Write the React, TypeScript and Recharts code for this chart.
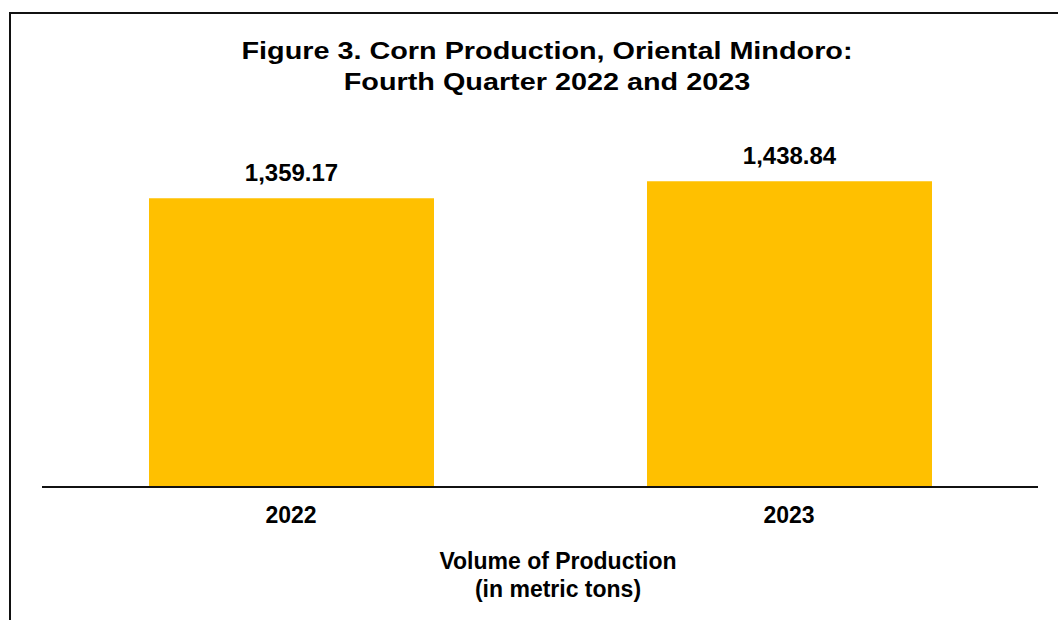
import React from "react";
import { BarChart, Bar, XAxis, YAxis, LabelList } from "recharts";

const years = ["2022", "2023"];
const production = [1359.17, 1438.84];
const titleLines = ["Figure 3. Corn Production, Oriental Mindoro:", "Fourth Quarter 2022 and 2023"];
const axisTitleLines = ["Volume of Production", "(in metric tons)"];

const data = years.map((year, i) => ({ year, value: production[i] }));

const FONT = "'Liberation Sans', Arial, Helvetica, sans-serif";

const fmt = (v: number) =>
  v.toLocaleString("en-US", { minimumFractionDigits: 2, maximumFractionDigits: 2 });

export default function App() {
  return (
    <div
      style={{
        position: "fixed",
        left: 0,
        top: 0,
        width: 1058,
        height: 620,
        overflow: "hidden",
        background: "#fff",
        fontFamily: FONT,
      }}
    >
      <div
        style={{
          position: "absolute",
          left: 9,
          top: 12,
          width: 1100,
          height: 700,
          border: "2px solid #111",
        }}
      />
      <BarChart
        width={1058}
        height={620}
        data={data}
        margin={{ top: 147, right: 20, bottom: 93, left: 42 }}
        style={{ position: "absolute", left: 0, top: 0 }}
      >
        <XAxis
          dataKey="year"
          height={40}
          axisLine={{ stroke: "#111", strokeWidth: 2 }}
          tickLine={false}
          tickMargin={14}
          tick={{ fill: "#000", fontSize: 23, fontWeight: 700, fontFamily: FONT }}
        />
        <YAxis hide domain={[0, 1600]} />
        <Bar dataKey="value" fill="#FFC000" barSize={285} isAnimationActive={false}>
          <LabelList
            dataKey="value"
            position="top"
            offset={17}
            formatter={(v: any) => fmt(Number(v))}
            style={{ fill: "#000", fontSize: 24, fontWeight: 700, fontFamily: FONT }}
          />
        </Bar>
      </BarChart>
      <svg
        width={1058}
        height={620}
        style={{ position: "absolute", left: 0, top: 0, pointerEvents: "none" }}
      >
        {titleLines.map((t, i) => (
          <text
            key={t}
            x={0}
            y={0}
            transform={`translate(547, ${59 + i * 31}) scale(1.2, 1)`}
            textAnchor="middle"
            fontFamily={FONT}
            fontWeight={700}
            fontSize={24}
            fill="#000"
          >
            {t}
          </text>
        ))}
        {axisTitleLines.map((t, i) => (
          <text
            key={t}
            x={558}
            y={569 + i * 28}
            textAnchor="middle"
            fontFamily={FONT}
            fontWeight={700}
            fontSize={23}
            fill="#000"
          >
            {t}
          </text>
        ))}
      </svg>
    </div>
  );
}
